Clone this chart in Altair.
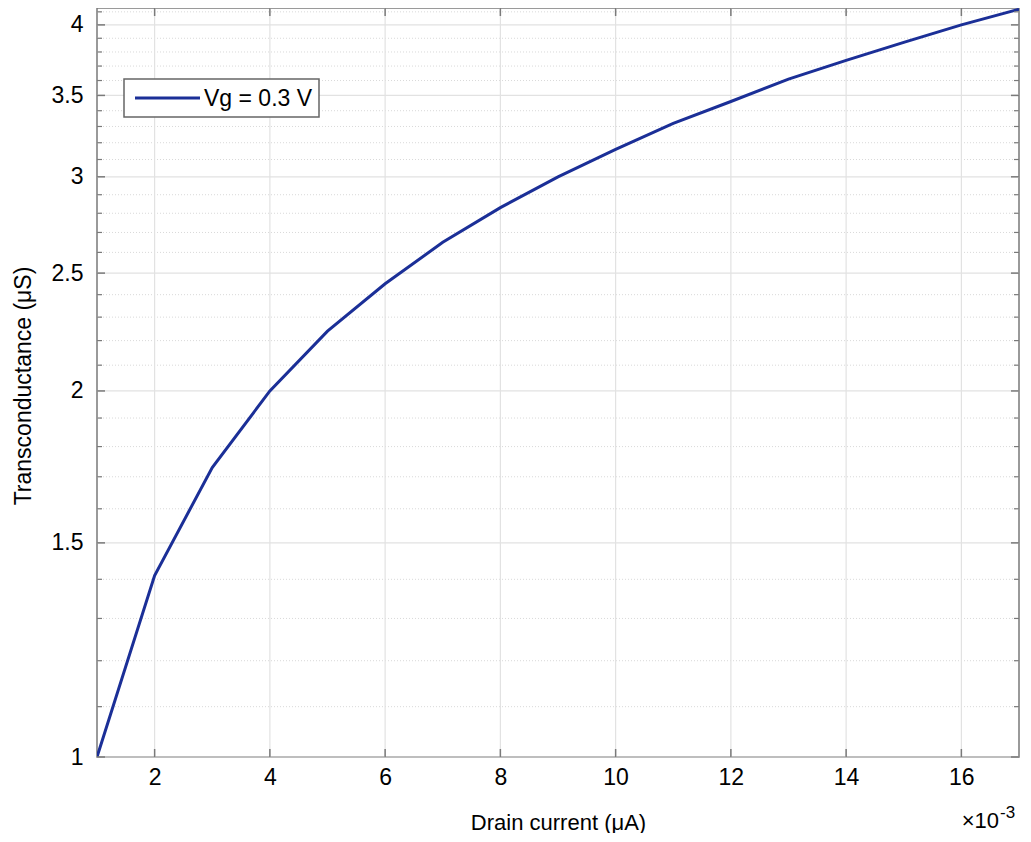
import altair as alt
import pandas as pd

# ---- data ----
drain_current = [1, 2, 3, 4, 5, 6, 7, 8, 9, 10, 11, 12, 13, 14, 15, 16, 17]
transconductance = [1.00, 1.41, 1.73, 2.00, 2.24, 2.45, 2.65, 2.83, 3.00,
                    3.16, 3.32, 3.46, 3.61, 3.74, 3.87, 4.00, 4.12]
x_ticks = [2, 4, 6, 8, 10, 12, 14, 16]
y_major = [1, 1.5, 2, 2.5, 3, 3.5, 4]
y_minor = [1.1, 1.2, 1.3, 1.4, 1.6, 1.7, 1.8, 1.9, 2.1, 2.2, 2.3, 2.4,
           2.6, 2.7, 2.8, 2.9, 3.1, 3.2, 3.3, 3.4, 3.6, 3.7, 3.8, 3.9, 4.1]
legend_label = ["Vg = 0.3 V"]
exp_base = ["\u00d710"]
exp_power = ["-3"]

# ---- styling ----
W, H = 922, 749
FONT = "Liberation Sans"
BLUE = "#1b2f97"
AX = "#7a7a7a"
GRID = "#e2e2e2"
MINOR = "#d9d9d9"
FS = 23

xs = alt.Scale(domain=[1, 17], nice=False, zero=False)
ys = alt.Scale(type="log", domain=[1, 4.13], nice=False)

AXX = alt.Axis(
    values=x_ticks, title="Drain current (\u03bcA)", grid=False, ticks=False,
    domain=False, labelFontSize=FS, labelColor="black", labelFont=FONT,
    labelPadding=9, labelFlush=False, titleFont=FONT, titleFontSize=22,
    titleFontWeight="normal", titleColor="black", titleBaseline="alphabetic",
    titleY=72)
AXY = alt.Axis(
    values=y_major, format="~g", title="Transconductance (\u03bcS)", grid=False,
    ticks=False, domain=False, labelFontSize=FS, labelColor="black",
    labelFont=FONT, labelPadding=14, labelFlush=False, titleFont=FONT,
    titleFontSize=23, titleFontWeight="normal", titleColor="black",
    titleBaseline="alphabetic", titleAngle=270, titleX=-67, titleY=H / 2 + 3)

df = pd.DataFrame({"x": drain_current, "y": transconductance})
ymaj = pd.DataFrame({"v": y_major})
ymin = pd.DataFrame({"v": y_minor})
xt = pd.DataFrame({"v": x_ticks})
leg = pd.DataFrame({"s": legend_label})
expo = pd.DataFrame({"b": exp_base, "p": exp_power})

VX = alt.X("v:Q", scale=xs, axis=AXX)
VY = alt.Y("v:Q", scale=ys, axis=AXY)

minor_grid = alt.Chart(ymin).mark_rule(color=MINOR, strokeWidth=1, strokeDash=[1, 2]).encode(y=VY)
major_grid_y = alt.Chart(ymaj).mark_rule(color=GRID, strokeWidth=1.2).encode(y=VY)
major_grid_x = alt.Chart(xt).mark_rule(color=GRID, strokeWidth=1.2).encode(x=VX)

line = alt.Chart(df).mark_line(color=BLUE, strokeWidth=3, clip=True).encode(
    x=alt.X("x:Q", scale=xs, axis=AXX),
    y=alt.Y("y:Q", scale=ys, axis=AXY),
)

tick_layers = [
    alt.Chart(ymaj).mark_rule(color=AX, strokeWidth=1.5).encode(y=VY, x=alt.value(0), x2=alt.value(8)),
    alt.Chart(ymaj).mark_rule(color=AX, strokeWidth=1.5).encode(y=VY, x=alt.value(W - 8), x2=alt.value(W)),
    alt.Chart(ymin).mark_rule(color=AX, strokeWidth=1.2).encode(y=VY, x=alt.value(0), x2=alt.value(5)),
    alt.Chart(ymin).mark_rule(color=AX, strokeWidth=1.2).encode(y=VY, x=alt.value(W - 5), x2=alt.value(W)),
    alt.Chart(xt).mark_rule(color=AX, strokeWidth=1.5).encode(x=VX, y=alt.value(H - 8), y2=alt.value(H)),
    alt.Chart(xt).mark_rule(color=AX, strokeWidth=1.5).encode(x=VX, y=alt.value(0), y2=alt.value(8)),
]

leg_box = alt.Chart(leg).mark_rect(fill="white", stroke="#666666", strokeWidth=1.5).encode(
    x=alt.value(27), x2=alt.value(222), y=alt.value(71), y2=alt.value(109))
leg_line = alt.Chart(leg).mark_rule(color=BLUE, strokeWidth=3).encode(
    x=alt.value(38), x2=alt.value(103), y=alt.value(90))
leg_text = alt.Chart(leg).mark_text(align="left", baseline="middle", font=FONT,
                                    fontSize=FS, color="black").encode(
    x=alt.value(107), y=alt.value(91), text="s:N")

exp_b = alt.Chart(expo).mark_text(align="right", baseline="alphabetic", font=FONT,
                                  fontSize=22, color="black").encode(
    x=alt.value(W - 20), y=alt.value(H + 71), text="b:N")
exp_p = alt.Chart(expo).mark_text(align="left", baseline="alphabetic", font=FONT,
                                  fontSize=17, color="black").encode(
    x=alt.value(W - 19), y=alt.value(H + 61), text="p:N")

chart = alt.layer(
    minor_grid, major_grid_y, major_grid_x, line, *tick_layers,
    leg_box, leg_line, leg_text, exp_b, exp_p,
).properties(
    width=W, height=H,
    autosize=alt.AutoSizeParams(type="none"),
    padding={"left": 89, "top": 0, "right": 2, "bottom": 76},
    background="white",
).configure_view(stroke=AX, strokeWidth=1.5)

chart.save("out.html", embed_options={"renderer": "svg", "actions": False})
